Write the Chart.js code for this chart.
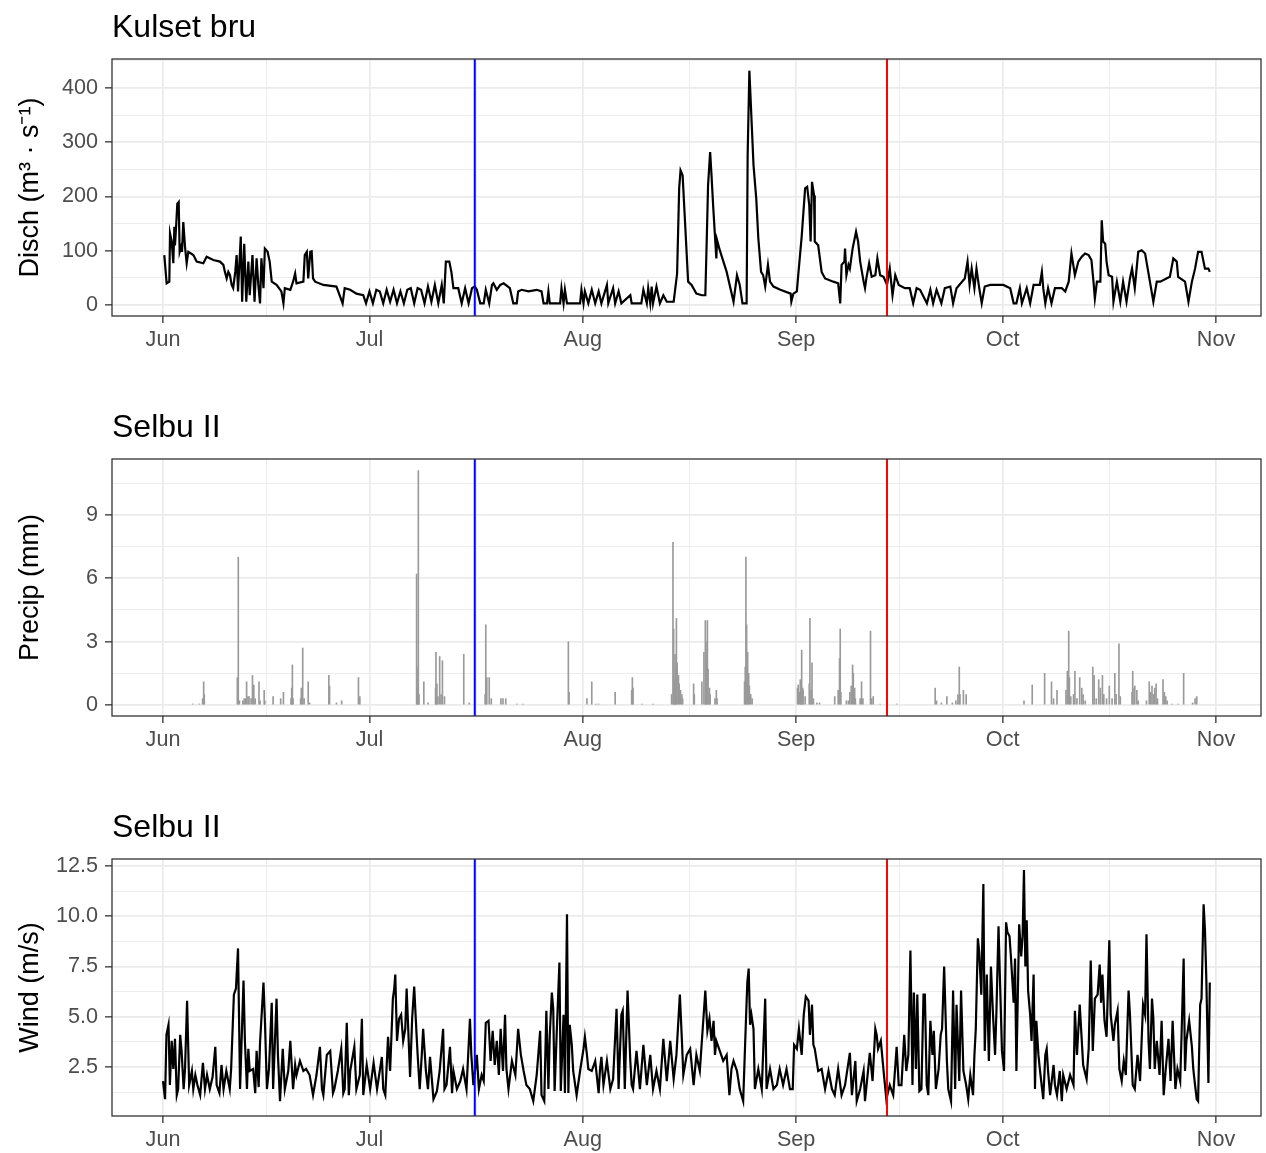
<!DOCTYPE html>
<html>
<head>
<meta charset="utf-8">
<script src="https://cdn.jsdelivr.net/npm/chart.js"></script>
<style>
  body { margin: 0; background: #fff; width: 1266px; height: 1153px; overflow: hidden; position: relative; }
  canvas { position: absolute; left: 0; }
</style>
</head>
<body>
<canvas id="p1" width="1266" height="360" style="top:0px"></canvas>
<canvas id="p2" width="1266" height="360" style="top:400px"></canvas>
<canvas id="p3" width="1266" height="353" style="top:800px"></canvas>
<script>
// x is days since 1 June
const monthDays = [0, 30, 61, 92, 122, 153];
const monthLabels = ['Jun', 'Jul', 'Aug', 'Sep', 'Oct', 'Nov'];
const eventDays = [45.3, 105.2];
const eventColors = ['#0000ff', '#ff0000'];
const panelTitles = ['Kulset bru', 'Selbu II', 'Selbu II'];
const yTitles = ['Disch (m³ · s⁻¹)', 'Precip (mm)', 'Wind (m/s)'];
const dischTicks = [0, 100, 200, 300, 400];
const precipTicks = [0, 3, 6, 9];
const windTicks = [2.5, 5, 7.5, 10, 12.5];

// discharge, Kulset bru
const dischDay = [0.19,0.53,0.92,1.02,1.26,1.5,1.65,1.74,1.89,2.08,2.28,2.42,2.62,2.76,2.95,3.2,3.44,3.68,4.41,4.89,5.86,6.34,7.31,8.28,8.77,9.0,9.25,9.49,9.73,9.98,
  10.2,10.5,10.7,10.9,11.3,11.5,11.8,12.1,12.4,12.6,13.0,13.3,13.6,13.85,14.1,14.3,14.6,14.8,15.2,15.5,15.8,16.5,17.2,17.5,17.7,18.5,18.9,19.2,19.4,20.4,20.6,20.9,21.1,21.4,21.6,21.8,22.1,23.3,25.2,26.1,26.4,27.2,28.1,29.1,29.5,
  30,30.5,31,31.5,32,32.5,33,33.5,34,34.5,35,35.5,36,36.5,37,37.5,38,38.5,39,39.5,40,40.5,40.8,41.1,41.6,41.9,42.2,42.9,43.4,43.9,44.4,44.9,45.3,45.6,46.1,46.6,46.9,47.4,47.8,48.0,48.5,49.0,49.5,
  50.4,50.9,51.4,51.6,52.1,53.1,54.3,55.0,55.3,55.8,56.0,56.2,57.7,57.9,58.2,58.4,58.7,60.6,60.8,61.1,61.3,61.8,62.3,62.8,63.3,63.7,64.5,64.7,65.4,65.7,66.2,66.6,67.9,68.1,69.5,69.8,70.3,70.5,70.8,71.0,71.2,71.7,72.2,72.7,73.2,74.2,74.5,74.7,
  75.0,75.2,75.5,75.8,76.3,76.8,77.5,78.3,78.8,79.0,79.2,79.5,79.7,79.96,80.4,80.5,80.9,81.9,82.9,83.4,83.8,84.2,84.8,84.95,85.2,85.8,86.2,86.5,86.9,87.2,87.5,87.9,88.2,88.7,89.7,91.2,91.3,91.6,92.1,92.3,92.8,93.3,93.6,93.9,94.1,94.3,94.6,94.7,95.2,95.7,96.2,97.4,98.1,98.4,98.6,99.0,99.1,99.3,99.6,99.8,
  100.2,100.7,101.0,101.3,101.8,102.0,102.2,102.6,102.97,103.5,103.8,104.2,104.7,105.2,105.6,106.0,106.4,106.9,107.8,108.5,109.0,109.5,110.0,111.0,111.5,111.9,112.4,113.1,113.6,114.4,114.8,115.3,116.1,116.5,116.9,117.2,117.5,117.9,118.2,118.6,118.96,119.4,120.2,122.1,123.1,123.6,124.0,124.5,124.8,
  125.5,126.0,126.5,127.4,127.7,127.9,128.2,128.6,129.1,129.6,130.6,131.1,131.6,132.0,132.5,133.0,133.5,133.97,134.5,134.9,135.2,135.4,135.7,136.2,136.4,136.6,136.9,137.1,137.4,137.9,138.1,138.6,139.1,139.5,140.0,140.5,140.8,141.2,141.7,142.2,142.7,142.9,143.4,143.9,144.4,144.9,145.8,146.3,146.8,147.3,147.5,148.5,149.0,149.5,149.96,150.4,150.9,151.4,151.9,152.1];
const dischVal = [92,40,43,132,117,77,144,110,141,187,190,98,107,98,153,107,77,98,92,80,77,89,83,80,74,61,49,61,55,37,
  31,61,92,25,126,6,113,6,80,18,92,6,86,37,3,86,31,104,98,80,43,37,25,3,31,28,43,58,40,43,92,98,49,98,99,49,43,37,34,3,31,28,21,18,3,
  25,3,28,25,3,28,6,28,3,25,3,28,31,3,31,28,3,34,6,37,3,37,3,80,80,61,31,31,3,31,3,31,34,28,3,3,28,3,37,40,28,37,40,
  31,3,3,25,28,25,28,25,3,3,25,3,3,31,3,28,3,3,28,3,25,3,28,3,25,3,37,3,31,3,25,3,18,3,3,28,3,31,3,34,3,34,3,18,6,6,37,58,
  215,248,239,166,43,37,21,18,18,117,221,282,239,178,86,120,101,61,6,55,37,3,3,276,432,258,196,123,61,55,34,74,43,34,28,21,6,21,25,55,126,215,218,184,117,227,202,117,110,61,49,43,40,3,74,80,104,55,74,67,
  104,135,117,80,43,31,49,77,52,55,86,55,52,37,67,18,55,37,31,31,3,31,28,3,28,3,28,3,31,34,3,31,43,49,80,37,67,31,67,31,3,34,37,37,31,3,3,31,3,
  31,3,37,37,61,31,3,31,3,31,31,25,43,95,55,80,89,95,92,83,43,12,43,43,156,117,113,80,55,52,6,43,6,43,6,49,67,31,98,101,95,80,43,6,43,43,49,52,86,80,52,43,6,43,67,98,98,67,67,61];

// hourly precipitation, Selbu II (only non-zero hours)
const precipDay = [4.31,5.28,5.76,5.91,6.0,10.8,10.94,11.1,11.6,11.8,11.96,12.15,12.35,12.5,12.8,13.0,13.2,13.4,13.95,14.1,14.7,14.8,16.0,17.1,17.5,18.6,18.7,18.8,18.9,20.0,20.1,20.3,20.5,21.1,21.3,24.1,24.2,25.2,25.96,28.4,28.6,
  36.85,36.95,37.05,37.1,37.2,37.9,38.5,39.6,39.66,39.8,39.95,40.2,40.4,40.6,40.9,43.7,44.5,46.8,46.9,47.05,47.4,47.7,49.1,49.4,49.8,51.4,52.3,58.9,59.0,61.6,62.3,62.9,63.3,65.7,68.1,68.2,68.3,69.6,71.2,
  73.9,74.1,74.2,74.3,74.4,74.5,74.6,74.7,74.9,75.0,75.2,75.4,75.5,77.1,77.2,78.3,78.6,78.8,78.9,79.0,79.1,79.2,79.4,79.5,80.2,80.4,80.5,84.5,84.6,84.7,84.8,84.95,85.1,85.2,85.4,85.6,
  92.2,92.3,92.5,92.6,92.7,92.8,92.95,93.0,93.3,93.9,94.0,94.2,94.3,94.5,95.0,95.4,97.6,98.1,98.3,98.4,98.5,99.3,99.6,99.8,100.0,100.2,100.3,100.5,100.6,101.3,101.5,101.7,102.8,102.97,103.2,104.2,105.2,106.6,
  112.2,112.4,113.1,113.9,114.7,115.2,115.5,115.7,115.8,116.3,116.7,125.1,126.3,128.1,129.1,129.4,129.9,131.2,131.4,131.6,131.7,131.9,132.3,132.5,132.8,133.2,133.5,133.7,134.0,135.1,135.3,135.6,135.96,136.2,136.5,136.7,137.1,137.5,137.9,
  138.3,138.5,138.9,139.1,140.8,140.9,141.1,141.2,141.5,141.7,142.9,143.3,143.5,143.7,143.9,144.1,144.3,144.5,145.3,145.5,145.7,145.9,146.6,147.5,148.3,149.6,149.96,150.2];
const precipVal = [0.05,0.05,0.3,1.1,0.5,1.3,7.0,0.2,0.2,0.3,0.3,1.1,0.4,0.4,0.3,1.4,0.95,0.3,1.1,0.2,0.7,0.2,0.4,0.3,0.6,0.3,0.8,1.9,0.3,0.3,0.8,2.7,0.3,1.1,0.1,1.4,0.9,0.1,0.2,1.3,0.4,
  6.2,0.8,1.8,11.1,0.5,1.1,0.1,0.8,2.5,1.0,0.4,2.3,0.5,2.1,0.4,2.4,0.1,0.5,3.8,1.3,1.3,0.3,0.3,0.3,0.3,0.05,0.05,3.0,0.6,0.3,1.1,0.05,0.05,0.6,0.7,1.3,0.8,0.05,0.05,
  0.5,7.7,3.6,1.2,2.4,1.8,4.1,2.0,1.4,1.0,0.7,0.5,0.3,1.0,0.5,1.1,2.5,4.0,3.0,2.0,4.0,1.7,0.8,0.5,0.3,0.7,0.3,1.1,1.8,7.0,3.8,2.5,1.5,0.9,0.5,0.3,
  0.8,0.95,0.6,1.2,0.8,2.6,0.8,0.7,0.4,1.0,4.1,0.7,2.0,0.3,0.1,0.1,0.4,0.7,2.2,3.6,0.6,0.2,0.2,0.6,0.9,1.9,1.5,0.8,0.3,0.3,1.1,0.3,3.5,0.3,0.4,0.05,0.05,0.05,
  0.8,0.2,0.1,0.4,0.1,0.2,0.5,1.8,0.5,0.7,0.5,0.2,0.95,1.5,1.1,0.3,0.7,0.7,1.6,3.5,1.3,0.4,0.5,1.6,0.3,1.3,0.8,0.5,0.2,1.8,1.4,0.3,1.2,0.8,1.4,0.5,0.3,0.9,0.3,
  1.5,0.5,2.9,0.4,0.6,1.6,0.8,0.9,0.7,0.2,0.2,1.1,0.6,0.9,0.5,0.8,1.0,0.3,1.2,0.6,0.4,0.2,0.05,0.05,1.5,0.1,0.3,0.4];

// wind speed, Selbu II
const windDay = [0.0,0.3,0.5,0.8,1.0,1.26,1.5,1.74,2.0,2.2,2.5,2.7,3.0,3.2,3.5,3.8,4.2,4.4,4.7,5.0,5.4,5.8,6.1,6.4,6.8,7.2,7.6,7.8,8.2,8.5,8.8,9.2,9.7,9.9,
  10.3,10.6,10.9,11.2,11.7,11.9,12.2,12.4,12.6,13.1,13.4,13.6,13.9,14.1,14.6,14.8,15.1,15.4,15.8,16.0,16.5,16.7,17.0,17.4,17.7,18.2,18.5,18.9,19.2,19.4,19.9,
  20.4,20.8,21.3,21.8,22.3,22.8,23.1,23.3,23.8,24.3,24.7,24.9,25.4,25.9,26.2,26.4,26.7,27.0,27.2,27.8,28.1,28.6,28.9,29.1,29.6,
  30.1,30.6,31.1,31.8,32.0,32.3,32.7,33.0,33.4,33.6,33.75,34.0,34.3,34.6,34.9,35.2,35.4,35.7,35.9,36.2,36.5,36.8,37.0,37.3,37.6,37.8,38.2,38.5,38.8,39.3,39.8,
  40.2,40.7,40.9,41.2,41.7,42.0,42.2,42.7,43.2,43.6,44.1,44.6,44.8,45.1,45.6,45.9,46.3,46.6,46.9,47.3,47.6,47.9,48.2,48.5,48.8,49.06,49.4,49.7,49.9,
  50.2,50.7,51.2,51.6,52.0,52.4,52.8,53.3,53.8,54.3,54.8,55.0,55.4,55.7,56.0,56.2,56.5,56.7,56.9,57.2,57.6,57.8,58.2,58.4,58.7,58.9,59.1,59.4,59.6,
  60.1,60.6,61.1,61.3,61.6,61.8,62.3,62.8,63.3,63.5,63.7,64.0,64.5,65.0,65.4,65.9,66.2,66.6,66.8,67.1,67.5,67.9,68.1,68.3,68.8,69.3,69.8,
  70.3,70.8,71.2,71.7,72.2,72.7,73.2,73.7,74.2,74.6,75.1,75.4,75.6,76.1,76.6,77.1,77.5,78.0,78.5,78.8,79.1,79.4,79.7,
  80.0,80.2,80.4,80.9,81.4,81.9,82.3,82.6,82.9,83.4,83.8,84.3,84.7,84.9,85.1,85.3,85.5,85.8,86.0,86.5,87.0,87.5,87.7,88.2,88.7,89.2,89.6,
  90.1,90.6,91.1,91.5,91.7,92.1,92.4,92.8,93.1,93.4,93.8,94.0,94.3,94.5,94.7,95.2,95.7,96.2,96.7,97.2,97.6,98.1,98.6,99.1,99.8,
  100.1,100.6,100.8,101.3,101.8,102.0,102.7,103.1,103.5,103.7,103.9,104.3,104.7,105.1,105.6,106.1,106.6,106.9,107.3,107.7,108.0,108.3,108.6,108.9,109.1,109.4,109.6,109.9,
  110.2,110.5,110.7,110.97,111.2,111.5,111.8,112.0,112.3,112.7,113.0,113.2,113.5,113.9,114.1,114.5,114.8,115.1,115.3,115.7,115.96,116.3,116.7,117.0,117.3,117.7,117.9,118.1,118.4,118.6,118.9,119.2,119.4,119.7,
  120.0,120.3,120.6,120.9,121.1,121.4,121.6,121.9,122.2,122.5,122.7,123.0,123.2,123.6,123.8,124.0,124.4,124.7,124.9,125.1,125.3,125.5,125.7,126.0,126.2,126.5,126.7,126.9,127.2,127.4,127.9,128.2,128.4,128.6,128.9,129.4,129.6,129.9,
  130.3,130.6,130.8,131.3,131.8,132.3,132.5,132.8,133.2,133.5,133.7,134.2,134.5,134.8,135.1,135.4,135.8,136.1,136.3,136.5,136.8,137.1,137.5,137.7,138.1,138.3,138.7,138.96,139.3,139.6,139.9,
  140.3,140.5,140.9,141.2,141.6,141.97,142.4,142.7,142.9,143.2,143.4,143.7,143.9,144.1,144.4,144.8,145.1,145.4,145.7,146.1,146.4,146.7,147.1,147.4,147.8,148.0,148.3,148.5,148.7,149.1,149.5,149.7,149.96,
  150.2,150.4,150.7,150.9,151.2,151.4,151.6,151.9,152.1];
const windVal = [1.8,0.9,4.1,4.6,1.6,3.8,2.4,3.9,1.1,1.4,4.1,3.3,1.4,2.4,5.8,1.6,2.3,1.4,2.1,1.6,1.1,2.7,1.4,2.1,1.4,2.0,3.5,1.6,1.2,2.6,1.4,2.3,1.4,2.4,
  6.1,6.4,8.4,1.4,6.8,3.8,1.4,3.4,2.3,2.4,1.2,3.3,1.5,3.7,6.7,4.9,1.4,2.4,5.7,1.4,5.9,3.1,0.8,3.4,1.4,2.3,3.8,1.4,2.6,2.1,2.8,
  2.3,2.4,2.1,1.1,2.1,3.5,1.4,1.1,3.1,3.3,1.2,1.4,2.3,3.4,1.2,1.4,4.7,1.1,2.3,3.5,1.4,2.1,4.9,1.1,2.6,
  1.4,2.7,1.4,3.0,1.4,1.1,4.0,2.3,5.9,6.4,7.1,3.8,4.9,5.1,3.8,4.4,6.4,3.8,2.0,4.9,6.5,4.4,3.1,1.4,3.1,4.4,2.3,1.4,3.0,0.9,1.3,
  2.3,4.4,1.4,1.6,3.5,1.2,2.3,1.4,1.8,2.4,1.4,4.9,3.1,1.6,3.1,1.4,2.1,1.8,4.7,4.8,2.8,4.3,2.6,3.8,2.1,4.4,2.3,5.1,2.4,
  1.4,2.8,2.1,4.4,3.1,2.3,1.6,1.4,0.8,2.1,4.3,1.1,0.8,5.3,1.4,4.1,6.2,5.4,1.3,4.1,7.7,1.3,5.1,1.2,10.1,1.2,4.6,3.6,2.3,
  1.1,2.3,3.4,4.0,3.1,2.4,2.3,2.8,1.2,2.4,3.0,1.6,2.8,1.4,1.9,5.4,1.4,5.1,5.3,1.4,6.3,2.8,1.6,1.4,3.3,1.4,3.6,
  1.6,3.1,1.4,2.3,1.4,3.9,1.8,3.8,1.9,3.1,6.1,3.8,2.1,3.1,3.4,1.6,3.1,2.3,4.8,6.3,4.3,4.9,3.8,
  4.8,3.1,3.8,3.3,2.8,3.1,1.1,2.4,2.8,2.3,1.4,0.8,4.8,6.7,7.4,4.6,5.1,4.4,1.4,2.4,1.4,5.9,1.4,2.4,1.4,1.6,2.4,
  1.6,2.4,1.4,1.4,3.6,3.4,4.4,3.1,5.1,6.0,5.8,4.1,5.6,3.6,3.4,2.3,2.4,1.4,2.3,1.4,1.1,2.4,1.1,1.6,3.2,
  1.1,2.8,0.8,1.4,2.3,0.8,3.2,1.8,4.4,4.1,3.4,3.8,2.3,0.9,1.6,1.1,3.5,1.6,1.6,4.1,2.3,3.1,8.3,1.6,6.2,2.4,6.1,1.3,
  1.4,6.1,6.1,1.6,1.1,4.8,3.1,4.3,1.4,2.4,4.1,4.4,7.5,2.8,1.4,0.8,6.3,1.4,5.6,1.8,6.3,2.3,1.6,0.9,2.1,1.1,3.1,4.4,8.9,8.2,6.1,11.6,3.3,7.1,
  2.8,7.5,5.1,3.1,5.3,9.5,7.0,3.3,2.3,9.7,9.2,9.0,8.0,5.7,7.9,2.3,9.6,8.0,9.0,12.3,7.5,9.8,6.3,5.1,3.8,7.1,1.4,4.8,3.1,2.4,0.9,3.1,3.4,2.3,1.1,2.6,1.6,1.1,
  2.3,0.8,2.1,1.4,2.1,1.6,5.3,3.1,5.6,3.8,2.6,1.9,3.4,7.8,3.3,5.9,6.1,7.6,5.7,7.1,4.8,4.0,8.8,5.1,3.8,4.6,5.3,2.4,1.8,2.8,2.1,
  6.3,5.1,1.6,1.4,3.1,1.8,5.6,5.1,9.1,3.8,2.4,5.9,4.9,2.4,3.8,2.1,4.8,1.1,2.4,3.9,1.8,4.8,1.4,2.4,1.8,4.1,7.9,2.3,3.8,4.8,3.5,2.4,1.6,
  0.9,0.8,5.6,5.9,10.6,9.3,6.8,1.7,6.7];

const FONT = "'Liberation Sans', Arial, Helvetica, sans-serif";

function midpoints(arr, lo, hi) {
  const out = [];
  const ext = [arr[0] - (arr[1] - arr[0])].concat(arr, [arr[arr.length - 1] + (arr[1] - arr[0])]);
  for (let i = 0; i < ext.length - 1; i++) {
    const m = (ext[i] + ext[i + 1]) / 2;
    if (m > lo && m < hi) out.push(m);
  }
  return out;
}

const decor = {
  id: 'decor',
  afterDatasetsDraw(chart, args, opts) {
    const { ctx, chartArea: a } = chart;
    const x = chart.scales.x;
    ctx.save();
    eventDays.forEach((d, i) => {
      const px = x.getPixelForValue(d);
      ctx.strokeStyle = eventColors[i];
      ctx.lineWidth = 2;
      ctx.beginPath();
      ctx.moveTo(px, a.top);
      ctx.lineTo(px, a.bottom);
      ctx.stroke();
    });
    ctx.strokeStyle = '#333333';
    ctx.lineWidth = 1.3;
    ctx.strokeRect(a.left, a.top, a.right - a.left, a.bottom - a.top);
    ctx.fillStyle = '#000';
    ctx.font = '32px ' + FONT;
    ctx.textAlign = 'left';
    ctx.textBaseline = 'alphabetic';
    ctx.fillText(opts.title, a.left, 37);
    ctx.restore();
  }
};

const X_MIN = -7.41, X_MAX = 159.54;

function gridOpts(majors) {
  const isMajor = (ctx) => ctx.tick && majors.some(m => Math.abs(m - ctx.tick.value) < 1e-6);
  return {
    offset: false,
    color: '#ebebeb',
    lineWidth: (ctx) => isMajor(ctx) ? 1.7 : 0.9,
    tickColor: (ctx) => isMajor(ctx) ? '#333333' : 'rgba(0,0,0,0)',
    tickWidth: 1.3,
    tickLength: 7,
    drawTicks: true
  };
}

function makePanel(id, idx, dataset, yMin, yMax, yMajors, yFmt, xHeight) {
  const yAll = yMajors.concat(midpoints(yMajors, yMin, yMax)).sort((a, b) => a - b);
  const xAll = monthDays.concat(midpoints(monthDays, X_MIN, X_MAX)).filter(v => v > X_MIN && v < X_MAX).sort((a, b) => a - b);
  new Chart(document.getElementById(id), {
    type: dataset.type,
    data: { datasets: [dataset] },
    plugins: [decor],
    options: {
      responsive: false,
      animation: false,
      devicePixelRatio: 1,
      layout: { padding: { top: 59, right: 5, bottom: 0, left: 0 } },
      plugins: { legend: { display: false }, tooltip: { enabled: false }, decor: { title: panelTitles[idx] } },
      scales: {
        x: {
          type: 'linear', min: X_MIN, max: X_MAX, offset: false,
          afterBuildTicks: (s) => { s.ticks = xAll.map(v => ({ value: v })); },
          afterFit: (s) => { s.height = xHeight; },
          grid: gridOpts(monthDays),
          border: { display: false },
          ticks: {
            autoSkip: false, maxRotation: 0, padding: 4,
            color: '#4d4d4d', font: { family: FONT, size: 21.6 },
            callback: (v) => { const k = monthDays.indexOf(v); return k >= 0 ? monthLabels[k] : ''; }
          }
        },
        y: {
          type: 'linear', min: yMin, max: yMax,
          afterBuildTicks: (s) => { s.ticks = yAll.map(v => ({ value: v })); },
          afterFit: (s) => { s.width = 112; },
          grid: gridOpts(yMajors),
          border: { display: false },
          title: { display: true, text: yTitles[idx], color: '#000', font: { family: FONT, size: 27 }, padding: { top: 14, bottom: 0 } },
          ticks: {
            autoSkip: false, padding: 7,
            color: '#4d4d4d', font: { family: FONT, size: 21.6 },
            callback: (v) => yMajors.indexOf(v) >= 0 ? yFmt(v) : ''
          }
        }
      }
    }
  });
}

makePanel('p1', 0, {
  type: 'line',
  data: dischDay.map((d, i) => ({ x: d, y: dischVal[i] })),
  borderColor: '#000', borderWidth: 2.2, pointRadius: 0, tension: 0, fill: false
}, -20.3, 453.5, dischTicks, (v) => String(v), 44);

makePanel('p2', 1, {
  type: 'bar',
  data: precipDay.map((d, i) => ({ x: d, y: precipVal[i] })),
  backgroundColor: '#9a9a9a', borderWidth: 0, barThickness: 1, grouped: false
}, -0.52, 11.65, precipTicks, (v) => String(v), 44);

makePanel('p3', 2, {
  type: 'line',
  data: windDay.map((d, i) => ({ x: d, y: windVal[i] })),
  borderColor: '#000', borderWidth: 2.2, pointRadius: 0, tension: 0, fill: false
}, 0.06, 12.85, windTicks, (v) => v.toFixed(1), 37);
</script>
</body>
</html>
